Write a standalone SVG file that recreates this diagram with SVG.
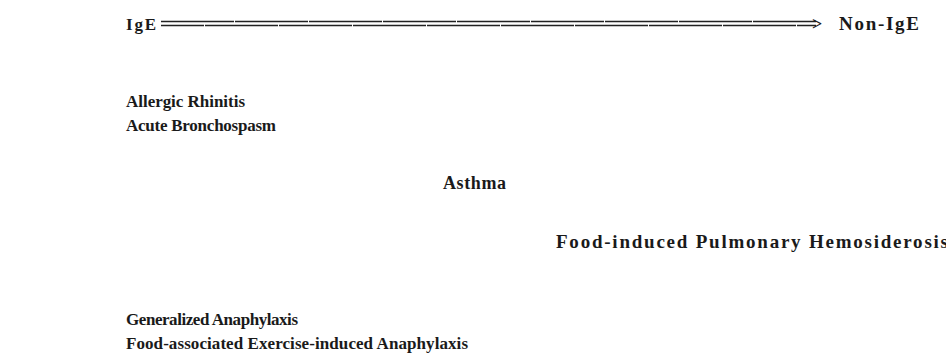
<svg xmlns="http://www.w3.org/2000/svg" width="946" height="354" viewBox="0 0 946 354">
<style>
text{font-family:"Liberation Serif","Times New Roman",serif;font-weight:bold;font-size:17px;fill:#1a1a1a}
.dl{stroke:#222;stroke-width:1.4;fill:none;stroke-dasharray:73 1}
</style>
<rect width="946" height="354" fill="#fff"/>
<g id="connectors">
<line class="dl" x1="161" y1="21.5" x2="816" y2="21.5"/>
<line class="dl" x1="161" y1="25.5" x2="816" y2="25.5" stroke-dashoffset="30"/>
<text x="812" y="29.5" style="font-size:18px">&gt;</text>
</g>
<g id="ige"><text x="126" y="30" textLength="30" lengthAdjust="spacing">IgE</text></g>
<g id="nonige"><text x="839" y="30" style="font-size:19px" textLength="80" lengthAdjust="spacing">Non-IgE</text></g>
<g id="rhinitis">
<text x="126" y="107" textLength="119" lengthAdjust="spacing">Allergic Rhinitis</text>
<text x="126" y="131" textLength="150" lengthAdjust="spacing">Acute Bronchospasm</text>
</g>
<g id="asthma"><text x="443" y="189" style="font-size:18px" textLength="63" lengthAdjust="spacing">Asthma</text></g>
<g id="hemosiderosis"><text x="556" y="248" style="font-size:19px" textLength="392" lengthAdjust="spacing">Food-induced Pulmonary Hemosiderosis</text></g>
<g id="anaphylaxis">
<text x="126" y="325" textLength="172" lengthAdjust="spacing">Generalized Anaphylaxis</text>
<text x="126" y="349" textLength="342" lengthAdjust="spacing">Food-associated Exercise-induced Anaphylaxis</text>
</g>
</svg>
